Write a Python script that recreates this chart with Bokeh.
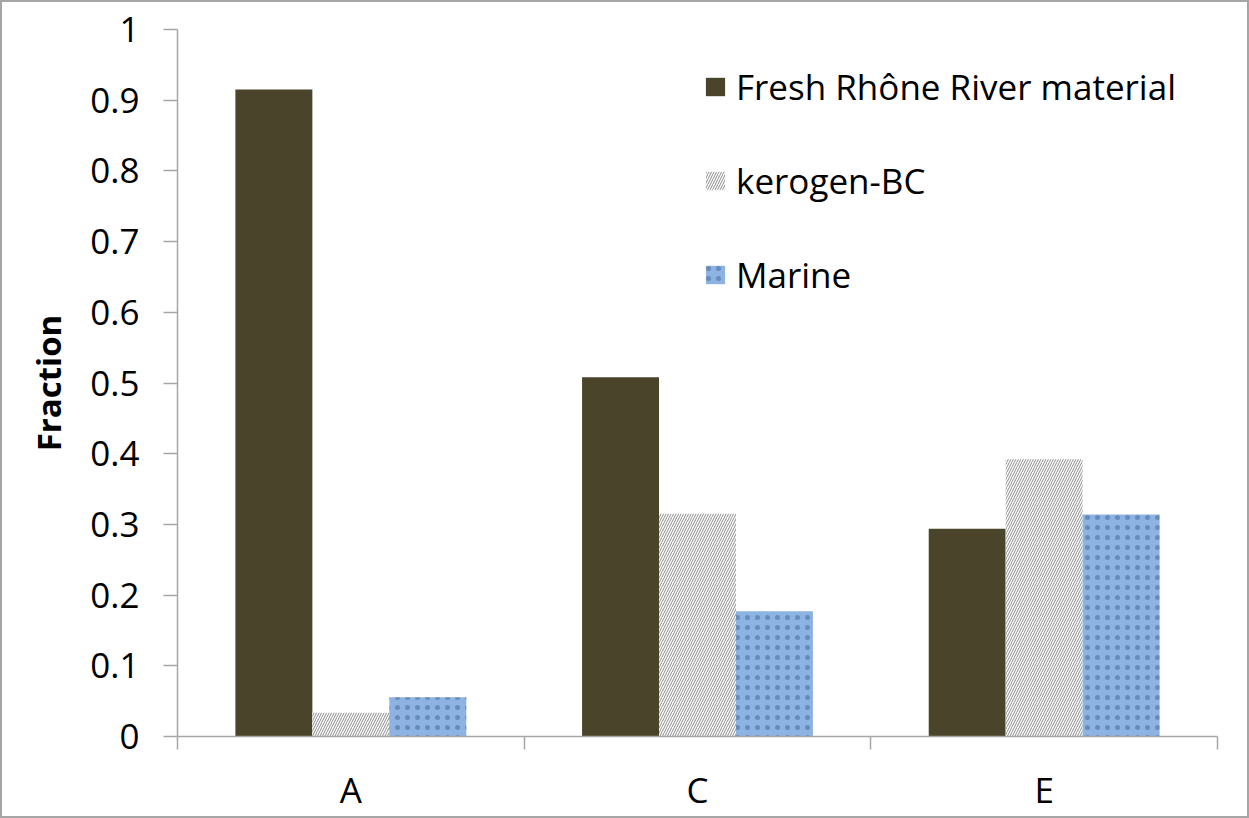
from bokeh.plotting import figure
from bokeh.models import Range1d, FixedTicker, ColumnDataSource, Legend, LegendItem
from bokeh.embed import file_html
from bokeh.resources import INLINE

# ---- data ----
categories = ["A", "C", "E"]
fresh = [0.915, 0.508, 0.294]
kerogen = [0.0335, 0.315, 0.392]
marine = [0.0556, 0.177, 0.314]
series_names = ["Fresh Rhône River material", "kerogen-BC", "Marine"]
y_ticks = [0, 0.1, 0.2, 0.3, 0.4, 0.5, 0.6, 0.7, 0.8, 0.9, 1]
y_tick_labels = ["0", "0.1", "0.2", "0.3", "0.4", "0.5", "0.6", "0.7", "0.8", "0.9", "1"]
y_label = "Fraction"

FONT = "Open Sans"
W, H = 1245, 814   # plus a 2px border on every side -> 1249 x 818

p = figure(width=W, height=H, output_backend="svg", toolbar_location=None,
           x_range=Range1d(0, len(categories)), y_range=Range1d(0, 1),
           min_border_left=175, min_border_right=34, min_border_top=27, min_border_bottom=84)
p.styles = {"border": "2px solid #a6a6a6", "box-sizing": "content-box"}
p.outline_line_color = None
p.xgrid.visible = False
p.ygrid.visible = False
p.background_fill_color = "white"
p.border_fill_color = "white"

bar_w = 0.222
centers = [i + 0.5 for i in range(len(categories))]
styles = [
    dict(fill_color="#4a452a", line_color=None),
    dict(fill_color="white", line_color=None, hatch_pattern="/", hatch_color="#8a8a8a",
         hatch_scale=5, hatch_weight=1),
    dict(fill_color="#8db3e2", line_color=None, hatch_pattern=".", hatch_color="#2e4f7c",
         hatch_scale=10, hatch_weight=1, hatch_alpha=0.4),
]
items = []
for k, (vals, st, name) in enumerate(zip([fresh, kerogen, marine], styles, series_names)):
    src = ColumnDataSource(dict(x=[c + (k - 1) * bar_w for c in centers], top=vals))
    r = p.vbar(x="x", top="top", bottom=0, width=bar_w, source=src, **st)
    items.append(LegendItem(label=name, renderers=[r]))

# y axis
ya = p.yaxis[0]
ya.ticker = FixedTicker(ticks=y_ticks)
ya.major_label_overrides = {t: l for t, l in zip(y_ticks, y_tick_labels)}
ya.axis_line_color = "#a6a6a6"
ya.axis_line_width = 1.5
ya.major_tick_line_color = "#a6a6a6"
ya.major_tick_line_width = 1.5
ya.major_tick_in = 0
ya.major_tick_out = 14
ya.minor_tick_line_color = None
ya.major_label_standoff = 24
ya.major_label_text_font = FONT
ya.major_label_text_font_size = "35px"
ya.major_label_text_color = "black"
ya.axis_label = y_label
ya.axis_label_text_font = FONT
ya.axis_label_text_font_style = "bold"
ya.axis_label_text_font_size = "33px"
ya.axis_label_text_color = "black"
ya.axis_label_standoff = 16

# x axis
xa = p.xaxis[0]
xa.ticker = FixedTicker(ticks=centers, minor_ticks=list(range(len(categories) + 1)))
xa.major_label_overrides = {c: l for c, l in zip(centers, categories)}
xa.axis_line_color = "#a6a6a6"
xa.axis_line_width = 1.5
xa.major_tick_line_color = None
xa.major_tick_in = 0
xa.major_tick_out = 13
xa.minor_tick_line_color = "#a6a6a6"
xa.minor_tick_line_width = 1.5
xa.minor_tick_in = 0
xa.minor_tick_out = 13
xa.major_label_standoff = 16
xa.major_label_text_font = FONT
xa.major_label_text_font_size = "35px"
xa.major_label_text_color = "black"

legend = Legend(items=items, location=(526, 438), orientation="vertical",
                padding=0, margin=0, spacing=46, label_height=48,
                glyph_width=24, glyph_height=23, label_standoff=9,
                border_line_color=None, background_fill_alpha=0,
                label_text_font=FONT, label_text_font_size="35px", label_text_color="black")
p.add_layout(legend, "center")

open("out.html", "w").write(file_html(p, INLINE))
